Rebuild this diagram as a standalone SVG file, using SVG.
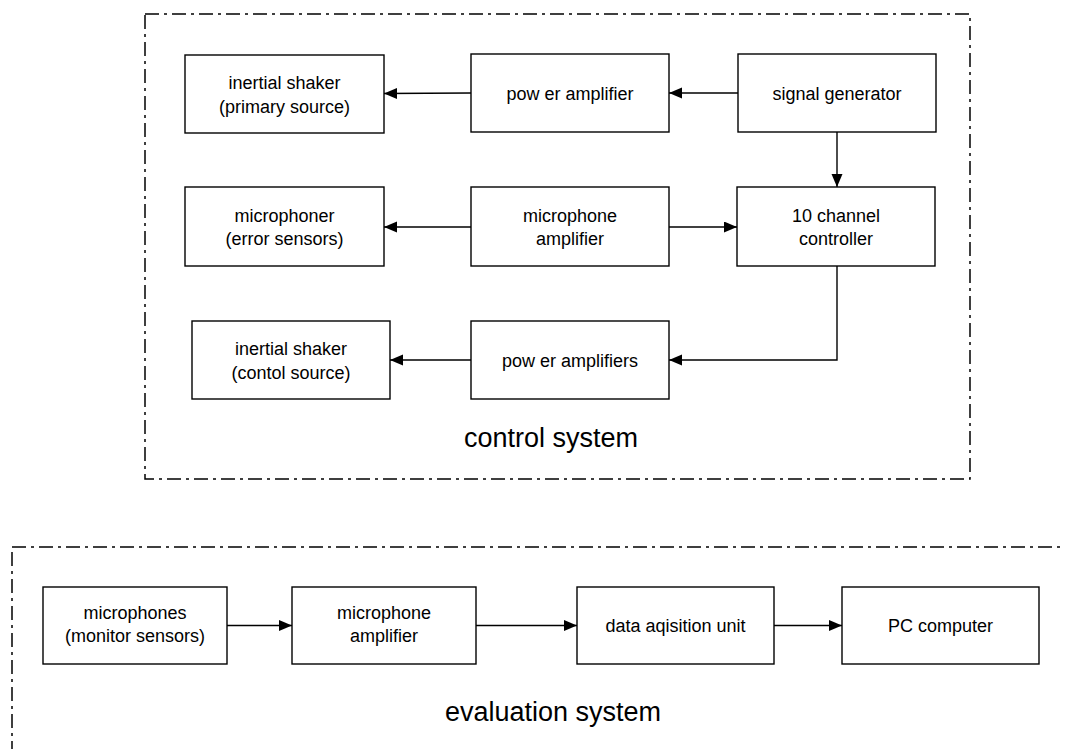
<svg xmlns="http://www.w3.org/2000/svg" width="1065" height="749" viewBox="0 0 1065 749">
<style>
.bg{fill:#fff}
.box{fill:#fff;stroke:#000;stroke-width:1.4}
.frame{fill:none;stroke:#000;stroke-width:1.5;stroke-dasharray:14 5 3 5}
.conn{fill:none;stroke:#000;stroke-width:1.4}
.t{font-family:"Liberation Sans",Arial,sans-serif;font-size:18px;fill:#000;text-anchor:middle}
.title{font-family:"Liberation Sans",Arial,sans-serif;font-size:27px;fill:#000;text-anchor:middle}
</style>
<defs>
<marker id="ah" markerUnits="userSpaceOnUse" markerWidth="14" markerHeight="12" refX="13" refY="5.5" orient="auto">
<path d="M0,0 L13,5.5 L0,11 Z" fill="#000"/>
</marker>
</defs>
<rect class="bg" x="0" y="0" width="1065" height="749"/>
<g id="control-system">
<rect class="frame" x="145" y="14" width="825" height="465"/>
<text class="title" x="551" y="447">control system</text>
</g>
<g id="evaluation-system">
<rect class="frame" x="12" y="547" width="1100" height="300"/>
<text class="title" x="553" y="721">evaluation system</text>
</g>
<g id="connectors">
<path class="conn" d="M471,93 L384,93.5" marker-end="url(#ah)"/>
<path class="conn" d="M738,93 L669,93" marker-end="url(#ah)"/>
<path class="conn" d="M837,132 L837,187" marker-end="url(#ah)"/>
<path class="conn" d="M471,227 L384,227" marker-end="url(#ah)"/>
<path class="conn" d="M669,227 L737,227" marker-end="url(#ah)"/>
<path class="conn" d="M837,266 V360 H669" marker-end="url(#ah)"/>
<path class="conn" d="M471,360 L390,360" marker-end="url(#ah)"/>
<path class="conn" d="M227,625.5 L292,625.5" marker-end="url(#ah)"/>
<path class="conn" d="M476,625.5 L577,625.5" marker-end="url(#ah)"/>
<path class="conn" d="M774,625.5 L842,625.5" marker-end="url(#ah)"/>
</g>
<g id="n-inertial-primary">
<rect class="box" x="185" y="55" width="199" height="78"/>
<text class="t" x="284.5" y="89">inertial shaker</text>
<text class="t" x="284.5" y="112.5">(primary source)</text>
</g>
<g id="n-power-amplifier">
<rect class="box" x="471" y="54" width="198" height="78"/>
<text class="t" x="570" y="99.5">pow er amplifier</text>
</g>
<g id="n-signal-generator">
<rect class="box" x="738" y="54" width="198" height="78"/>
<text class="t" x="837" y="99.5">signal generator</text>
</g>
<g id="n-microphoner">
<rect class="box" x="185" y="187" width="199" height="79"/>
<text class="t" x="284.5" y="221.5">microphoner</text>
<text class="t" x="284.5" y="245">(error sensors)</text>
</g>
<g id="n-mic-amp">
<rect class="box" x="471" y="187" width="198" height="79"/>
<text class="t" x="570" y="221.5">microphone</text>
<text class="t" x="570" y="245">amplifier</text>
</g>
<g id="n-controller">
<rect class="box" x="737" y="187" width="198" height="79"/>
<text class="t" x="836" y="221.5">10 channel</text>
<text class="t" x="836" y="245">controller</text>
</g>
<g id="n-inertial-control">
<rect class="box" x="192" y="321" width="198" height="78"/>
<text class="t" x="291" y="355">inertial shaker</text>
<text class="t" x="291" y="378.5">(contol source)</text>
</g>
<g id="n-power-amplifiers">
<rect class="box" x="471" y="321" width="198" height="78"/>
<text class="t" x="570" y="366.5">pow er amplifiers</text>
</g>
<g id="n-microphones">
<rect class="box" x="43" y="587" width="184" height="77"/>
<text class="t" x="135" y="618.5">microphones</text>
<text class="t" x="135" y="642">(monitor sensors)</text>
</g>
<g id="n-mic-amp-2">
<rect class="box" x="292" y="587" width="184" height="77"/>
<text class="t" x="384" y="618.5">microphone</text>
<text class="t" x="384" y="642">amplifier</text>
</g>
<g id="n-daq">
<rect class="box" x="577" y="587" width="197" height="77"/>
<text class="t" x="675.5" y="632">data aqisition unit</text>
</g>
<g id="n-pc">
<rect class="box" x="842" y="587" width="197" height="77"/>
<text class="t" x="940.5" y="632">PC computer</text>
</g>
</svg>
